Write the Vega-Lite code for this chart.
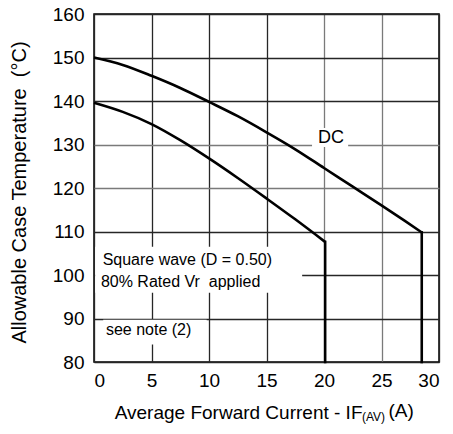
{
  "$schema": "https://vega.github.io/schema/vega-lite/v6.json",
  "width": 345,
  "height": 348,
  "autosize": "none",
  "padding": {"left": 94, "top": 14, "right": 14, "bottom": 72},
  "background": "white",
  "config": {
    "font": "Liberation Sans",
    "view": {"stroke": "#000000", "strokeWidth": 1.5},
    "axis": {
      "domain": false,
      "ticks": false,
      "grid": true,
      "gridWidth": 1.3,
      "labelFont": "Liberation Sans",
      "labelFontSize": 19,
      "labelColor": "#000000",
      "titleFont": "Liberation Sans",
      "titleFontWeight": "normal",
      "titleColor": "#000000"
    }
  },
  "datasets": {
    "curves": [
      {"series": "DC", "current": 0, "temp": 150},
      {"series": "DC", "current": 2.5, "temp": 148.3},
      {"series": "DC", "current": 5, "temp": 145.8},
      {"series": "DC", "current": 7.5, "temp": 143},
      {"series": "DC", "current": 10, "temp": 139.8},
      {"series": "DC", "current": 12.5, "temp": 136.5},
      {"series": "DC", "current": 15, "temp": 132.8},
      {"series": "DC", "current": 17.5, "temp": 128.9},
      {"series": "DC", "current": 20, "temp": 124.6},
      {"series": "DC", "current": 22.5, "temp": 120.3},
      {"series": "DC", "current": 25, "temp": 116},
      {"series": "DC", "current": 27, "temp": 112.5},
      {"series": "DC", "current": 28.5, "temp": 109.8},
      {"series": "Square", "current": 0, "temp": 139.6},
      {"series": "Square", "current": 2.5, "temp": 137.5},
      {"series": "Square", "current": 5, "temp": 134.7},
      {"series": "Square", "current": 7.5, "temp": 131},
      {"series": "Square", "current": 10, "temp": 126.8},
      {"series": "Square", "current": 12.5, "temp": 122.3},
      {"series": "Square", "current": 15, "temp": 117.6},
      {"series": "Square", "current": 17.5, "temp": 112.8},
      {"series": "Square", "current": 20.1, "temp": 107.6}
    ],
    "drops": [
      {"series": "DC", "current": 28.5, "top": 109.8, "bottom": 80},
      {"series": "Square", "current": 20.1, "top": 107.6, "bottom": 80}
    ],
    "boxes": [
      {"x1": 18.96, "x2": 22.1, "y1": 129.4, "y2": 133.8},
      {"x1": 0.1, "x2": 18.1, "y1": 95.9, "y2": 106.5},
      {"x1": 0.8, "x2": 9.8, "y1": 84.0, "y2": 89.7}
    ],
    "notes": [
      {"x": 0.75, "y": 103.4, "label": "Square wave (D = 0.50)"},
      {"x": 0.6, "y": 98.5, "label": "80% Rated Vr\u00a0 applied"},
      {"x": 1.04, "y": 87.4, "label": "see note (2)"}
    ],
    "dc": [
      {"x": 20.6, "y": 131.6, "label": "DC"}
    ],
    "sub": [
      {"x": 23.3, "y": 68.67, "label": "(AV)"}
    ],
    "unit": [
      {"x": 25.6, "y": 68.67, "label": "(A)"}
    ]
  },
  "layer": [
    {
      "data": {"name": "boxes"},
      "mark": {"type": "rect", "fill": "white", "stroke": null},
      "encoding": {
        "x": {
          "field": "x1", "type": "quantitative",
          "scale": {"domain": [0, 30], "nice": false, "zero": false},
          "axis": {
            "values": [0, 5, 10, 15, 20, 25, 30],
            "labelPadding": 9,
            "title": "Average Forward Current - IF",
            "titleFontSize": 19,
            "titleAlign": "right",
            "titleAnchor": null,
            "titleX": 268,
            "titleY": 50,
            "titleBaseline": "middle",
            "gridColor": {"condition": {"test": "datum.value == 20 || datum.value == 25", "value": "#7a7a7a"}, "value": "#262626"}
          }
        },
        "x2": {"field": "x2"},
        "y": {
          "field": "y1", "type": "quantitative",
          "scale": {"domain": [80, 160], "nice": false, "zero": false},
          "axis": {
            "values": [80, 90, 100, 110, 120, 130, 140, 150, 160],
            "labelPadding": 10,
            "title": "Allowable Case Temperature\u00a0 (°C)",
            "titleFontSize": 20,
            "titleAngle": -90,
            "titleX": -75,
            "titleY": 178,
            "titleAlign": "center",
            "titleBaseline": "middle",
            "gridColor": {"condition": {"test": "datum.value == 120 || datum.value == 130", "value": "#7a7a7a"}, "value": "#262626"}
          }
        },
        "y2": {"field": "y2"}
      }
    },
    {
      "data": {"name": "curves"},
      "mark": {"type": "line", "color": "#000000", "strokeWidth": 2.6, "interpolate": "monotone"},
      "encoding": {
        "x": {"field": "current", "type": "quantitative"},
        "y": {"field": "temp", "type": "quantitative"},
        "detail": {"field": "series"}
      }
    },
    {
      "data": {"name": "drops"},
      "mark": {"type": "rule", "color": "#000000", "strokeWidth": 2.6, "strokeCap": "square"},
      "encoding": {
        "x": {"field": "current", "type": "quantitative"},
        "y": {"field": "top", "type": "quantitative"},
        "y2": {"field": "bottom"}
      }
    },
    {
      "data": {"name": "notes"},
      "mark": {"type": "text", "align": "left", "baseline": "middle", "fontSize": 16, "color": "#000000", "font": "Liberation Sans"},
      "encoding": {
        "x": {"field": "x", "type": "quantitative"},
        "y": {"field": "y", "type": "quantitative"},
        "text": {"field": "label"}
      }
    },
    {
      "data": {"name": "dc"},
      "mark": {"type": "text", "align": "center", "baseline": "middle", "fontSize": 18, "color": "#000000", "font": "Liberation Sans"},
      "encoding": {
        "x": {"field": "x", "type": "quantitative"},
        "y": {"field": "y", "type": "quantitative"},
        "text": {"field": "label"}
      }
    },
    {
      "data": {"name": "sub"},
      "mark": {"type": "text", "align": "left", "baseline": "middle", "fontSize": 12, "dy": 6, "color": "#000000", "font": "Liberation Sans"},
      "encoding": {
        "x": {"field": "x", "type": "quantitative"},
        "y": {"field": "y", "type": "quantitative"},
        "text": {"field": "label"}
      }
    },
    {
      "data": {"name": "unit"},
      "mark": {"type": "text", "align": "left", "baseline": "middle", "fontSize": 19, "color": "#000000", "font": "Liberation Sans"},
      "encoding": {
        "x": {"field": "x", "type": "quantitative"},
        "y": {"field": "y", "type": "quantitative"},
        "text": {"field": "label"}
      }
    }
  ]
}
